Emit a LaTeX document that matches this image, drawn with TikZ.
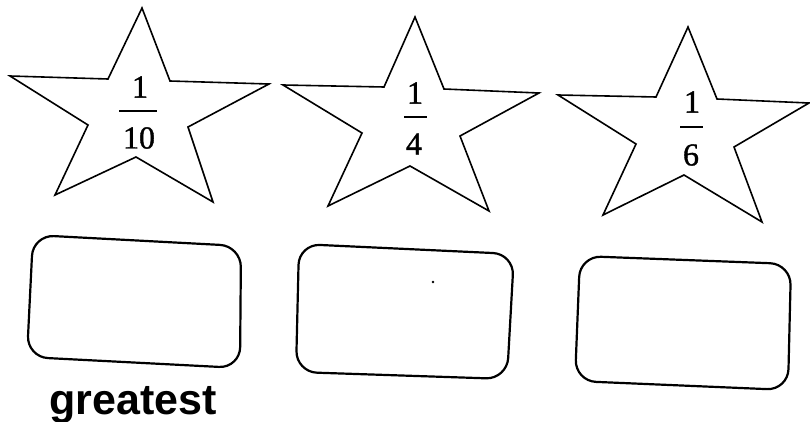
\documentclass[tikz,border=0pt]{standalone}
\usepackage{fontspec}
\setmainfont{Liberation Serif}
\newfontfamily\labelfont{Liberation Sans}
\newfontfamily\digitfont[FakeBold=1.2]{Liberation Serif}
\begin{document}
\begin{tikzpicture}[x=1pt,y=-1pt,
  starline/.style={draw=black,line width=1.6pt,line join=miter},
  boxline/.style={draw=black,line width=2.2pt,rounded corners=21pt},
  digit/.style={inner sep=0pt,font=\digitfont\fontsize{32}{34}\selectfont},
  fracbar/.style={draw=black,line width=1.6pt}]
\useasboundingbox (0,0) rectangle (810,422);
% stars
\draw[starline] (142,8) -- (170,81) -- (269,84) -- (188,127) -- (213,202) -- (136,157) -- (55,195) -- (88,125) -- (10,76) -- (108,79) -- cycle;
\draw[starline] (415,17) -- (444,89) -- (539,93) -- (460,136) -- (489,211) -- (410,166) -- (328,206) -- (362,133) -- (283,85) -- (384,87) -- cycle;
\draw[starline] (688,27) -- (717,99) -- (809,103) -- (734,147) -- (762,222) -- (684,175) -- (603,215) -- (636,144) -- (558,95) -- (656,97) -- cycle;
% fractions
\node[digit] (n1) at (140,87) {1};
\coordinate (b1l) at (119,111); \coordinate (b1r) at (157,111);
\draw[fracbar] (b1l) -- (b1r);
\node[digit] (d1) at (139,138) {10};
\node[digit] (n2) at (415,93) {1};
\coordinate (b2l) at (404,117); \coordinate (b2r) at (427,117);
\draw[fracbar] (b2l) -- (b2r);
\node[digit] (d2) at (414,144) {4};
\node[digit] (n3) at (692,102) {1};
\coordinate (b3l) at (680,127); \coordinate (b3r) at (703,127);
\draw[fracbar] (b3l) -- (b3r);
\node[digit] (d3) at (691,155) {6};
% boxes
\draw[boxline] (33,235) -- (241,246) -- (240,368) -- (27,357) -- cycle;
\draw[boxline] (299,244) -- (514,254) -- (507,379) -- (296,372) -- cycle;
\draw[boxline] (580,256) -- (791,264) -- (788,390) -- (575,381) -- cycle;
\fill[black] (433,282) circle (1.3pt);
% label
\node[anchor=base,inner sep=0pt,font=\labelfont\bfseries\fontsize{43}{46}\selectfont] (lbl) at (133,414) {greatest};
\end{tikzpicture}
\end{document}
